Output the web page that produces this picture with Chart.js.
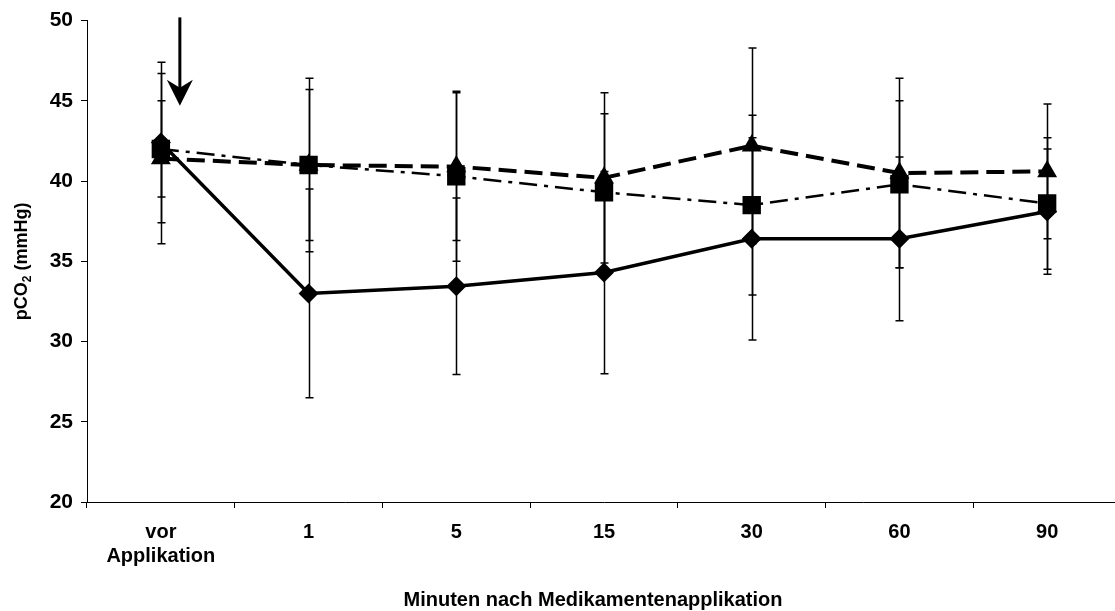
<!DOCTYPE html>
<html>
<head>
<meta charset="utf-8">
<script src="https://cdn.jsdelivr.net/npm/chart.js@4.4.0/dist/chart.umd.min.js"></script>
<style>
    html, body { margin: 0; padding: 0; background: #fff; overflow: hidden; }
    #wrap { position: relative; width: 1134px; height: 611px; }
</style>
</head>
<body>
<div id="wrap"><canvas id="chart"></canvas></div>
<script>
// pCO2 over time after drug application, three groups (mean +/- SD)
const categories = [['vor', 'Applikation'], '1', '5', '15', '30', '60', '90'];

const diamondMean = [42.4, 33.0, 33.45, 34.3, 36.4, 36.4, 38.1];
const diamondSD = [5.0, 6.5, 5.5, 6.3, 6.3, 5.1, 3.9];

const triangleMean = [41.4, 41.0, 40.9, 40.2, 42.2, 40.5, 40.6];
const triangleSD = [5.3, 5.4, 4.6, 5.3, 6.1, 5.9, 4.2];

const squareMean = [42.0, 41.0, 40.3, 39.3, 38.5, 39.8, 38.6];
const squareSD = [3.0, 4.7, 5.3, 4.9, 5.6, 5.2, 4.1];

const yMin = 20, yMax = 50, yStep = 5;

// arrow marking the time of application (value range on the y axis)
const arrowFrom = 50.2, arrowTo = 44.7;

const FONT = 'Liberation Sans, Arial, sans-serif';

const errorBars = {
    id: 'errorBars',
    beforeDatasetsDraw(chart) {
        const { ctx } = chart;
        const x = chart.scales.x, y = chart.scales.y;
        const groups = [[diamondMean, diamondSD], [triangleMean, triangleSD], [squareMean, squareSD]];
        ctx.save();
        ctx.strokeStyle = '#000';
        ctx.lineWidth = 1.5;
        groups.forEach(([mean, sd]) => {
            mean.forEach((m, i) => {
                const px = Math.round(x.getPixelForValue(i)) + 0.5;
                const top = y.getPixelForValue(m + sd[i]);
                const bot = y.getPixelForValue(m - sd[i]);
                ctx.beginPath();
                ctx.moveTo(px, top);
                ctx.lineTo(px, bot);
                ctx.moveTo(px - 4, top);
                ctx.lineTo(px + 4, top);
                ctx.moveTo(px - 4, bot);
                ctx.lineTo(px + 4, bot);
                ctx.stroke();
            });
        });
        ctx.restore();
    }
};

const extras = {
    id: 'extras',
    afterDraw(chart) {
        const { ctx, chartArea } = chart;
        const x = chart.scales.x, y = chart.scales.y;
        ctx.save();

        // arrow
        const ax = x.getPixelForValue(0) + 19;
        const y0 = y.getPixelForValue(arrowFrom);
        const y1 = y.getPixelForValue(arrowTo);
        ctx.strokeStyle = '#000';
        ctx.fillStyle = '#000';
        ctx.lineWidth = 3;
        ctx.beginPath();
        ctx.moveTo(ax, y0);
        ctx.lineTo(ax, y1 - 16);
        ctx.stroke();
        ctx.beginPath();
        ctx.moveTo(ax, y1);
        ctx.lineTo(ax - 13, y1 - 26);
        ctx.lineTo(ax, y1 - 18);
        ctx.lineTo(ax + 13, y1 - 26);
        ctx.closePath();
        ctx.fill();

        // x axis title
        ctx.font = 'bold 20px ' + FONT;
        ctx.textAlign = 'center';
        ctx.textBaseline = 'middle';
        ctx.fillText('Minuten nach Medikamentenapplikation', 593, 600);

        // y axis title with subscript
        const cy = (chartArea.top + chartArea.bottom) / 2;
        ctx.translate(22, cy);
        ctx.rotate(-Math.PI / 2);
        const big = 'bold 18px ' + FONT, small = 'bold 12px ' + FONT;
        ctx.font = big;
        const w1 = ctx.measureText('pCO').width;
        const w3 = ctx.measureText(' (mmHg)').width;
        ctx.font = small;
        const w2 = ctx.measureText('2').width;
        let sx = -(w1 + w2 + w3) / 2;
        ctx.textAlign = 'left';
        ctx.font = big;
        ctx.fillText('pCO', sx, 0);
        ctx.font = small;
        ctx.fillText('2', sx + w1, 6);
        ctx.font = big;
        ctx.fillText(' (mmHg)', sx + w1 + w2, 0);
        ctx.restore();
    }
};

new Chart(document.getElementById('chart'), {
    type: 'line',
    data: {
        labels: categories,
        datasets: [{
            label: 'Gruppe 1',
            data: diamondMean,
            borderColor: '#000',
            backgroundColor: '#000',
            borderWidth: 3.5,
            pointStyle: 'rectRot',
            pointRadius: 10,
            pointBorderWidth: 0,
            tension: 0
        }, {
            label: 'Gruppe 2',
            data: triangleMean,
            borderColor: '#000',
            backgroundColor: '#000',
            borderWidth: 4,
            borderDash: [18, 8],
            pointStyle: 'triangle',
            pointRadius: 11.5,
            pointBorderWidth: 0,
            tension: 0
        }, {
            label: 'Gruppe 3',
            data: squareMean,
            borderColor: '#000',
            backgroundColor: '#000',
            borderWidth: 2.5,
            borderDash: [18, 7, 4, 7],
            pointStyle: 'rect',
            pointRadius: 13,
            pointBorderWidth: 0,
            tension: 0
        }]
    },
    options: {
        responsive: true,
        maintainAspectRatio: false,
        animation: false,
        layout: { padding: { top: 20, left: 0, right: 0, bottom: 0 } },
        plugins: {
            legend: { display: false },
            tooltip: { enabled: false }
        },
        scales: {
            x: {
                offset: true,
                grid: { offset: true, drawOnChartArea: false, drawTicks: true, tickLength: 6, color: '#000' },
                border: { color: '#000', width: 1 },
                ticks: {
                    color: '#000',
                    font: { family: FONT, size: 20, weight: 'bold', lineHeight: 1.2 },
                    padding: 12,
                    maxRotation: 0,
                    autoSkip: false
                },
                afterFit(scale) { scale.height = 109; }
            },
            y: {
                min: yMin,
                max: yMax,
                grid: { drawOnChartArea: false, drawTicks: true, tickLength: 6, color: '#000' },
                border: { color: '#000', width: 1 },
                ticks: {
                    stepSize: yStep,
                    color: '#000',
                    font: { family: FONT, size: 21, weight: 'bold' },
                    padding: 8
                },
                afterFit(scale) { scale.width = 87; }
            }
        }
    },
    plugins: [errorBars, extras]
});
</script>
</body>
</html>
